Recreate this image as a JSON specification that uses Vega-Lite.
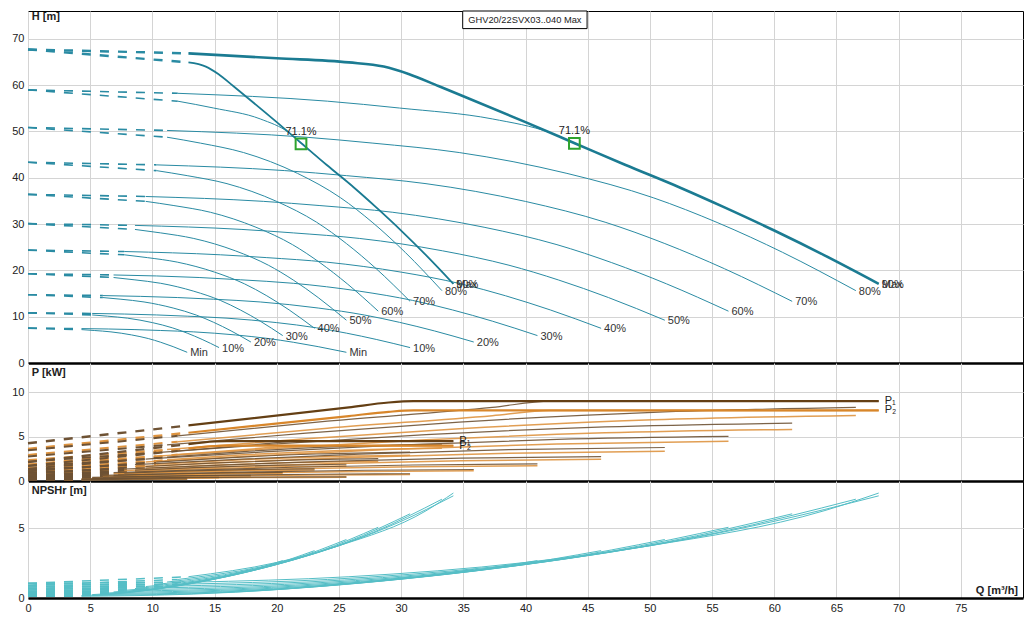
{
  "$schema": "https://vega.github.io/schema/vega-lite/v6.json",
  "background": "white",
  "padding": {"left": 0, "top": 10, "right": 8, "bottom": 0},
  "spacing": 0,
  "bounds": "flush",
  "config": {
    "font": "Liberation Sans",
    "view": {"stroke": "#000", "strokeWidth": 1},
    "concat": {"spacing": 0},
    "axis": {"labelFont": "Liberation Sans", "labelFontSize": 11, "labelColor": "#222", "gridColor": "#d4d4d4", "ticks": false, "domain": false},
    "text": {"font": "Liberation Sans", "fontSize": 11, "color": "#222"}
  },
  "datasets": {
    "h_dash": [
      {"c":"S0","q":0,"v":7.52,"q2":4.3,"v2":7.21},{"c":"D0","q":0,"v":7.52,"q2":4.3,"v2":7.43},
      {"c":"S1","q":0,"v":10.83,"q2":5.16,"v2":10.38},{"c":"D1","q":0,"v":10.83,"q2":5.16,"v2":10.7},
      {"c":"S2","q":0,"v":14.75,"q2":6.02,"v2":14.13},{"c":"D2","q":0,"v":14.75,"q2":6.02,"v2":14.56},
      {"c":"S3","q":0,"v":19.26,"q2":6.88,"v2":18.46},{"c":"D3","q":0,"v":19.26,"q2":6.88,"v2":19.01},
      {"c":"S4","q":0,"v":24.37,"q2":7.74,"v2":23.36},{"c":"D4","q":0,"v":24.37,"q2":7.74,"v2":24.07},
      {"c":"S5","q":0,"v":30.09,"q2":8.6,"v2":28.84},{"c":"D5","q":0,"v":30.09,"q2":8.6,"v2":29.71},
      {"c":"S6","q":0,"v":36.41,"q2":9.46,"v2":34.9},{"c":"D6","q":0,"v":36.41,"q2":9.46,"v2":35.95},
      {"c":"S7","q":0,"v":43.33,"q2":10.32,"v2":41.54},{"c":"D7","q":0,"v":43.33,"q2":10.32,"v2":42.78},
      {"c":"S8","q":0,"v":50.85,"q2":11.18,"v2":48.75},{"c":"D8","q":0,"v":50.85,"q2":11.18,"v2":50.21},
      {"c":"S9","q":0,"v":58.97,"q2":12.04,"v2":56.53},{"c":"D9","q":0,"v":58.97,"q2":12.04,"v2":58.23},
      {"c":"S10","q":0,"v":67.7,"q2":12.9,"v2":64.9},{"c":"D10","q":0,"v":67.7,"q2":12.9,"v2":66.85}
    ],
    "h_line": [
      {"c":"S0","q":4.3,"v":7.21},{"c":"S0","q":5.33,"v":7.02},{"c":"S0","q":6.67,"v":6.72},{"c":"S0","q":8.33,"v":6.06},{"c":"S0","q":9.67,"v":5.28},{"c":"S0","q":10.67,"v":4.48},{"c":"S0","q":11.67,"v":3.53},{"c":"S0","q":12.8,"v":2.31},
      {"c":"D0","q":4.3,"v":7.43},{"c":"D0","q":8.6,"v":7.21},{"c":"D0","q":10.67,"v":7.02},{"c":"D0","q":13.33,"v":6.72},{"c":"D0","q":16.67,"v":6.06},{"c":"D0","q":19.33,"v":5.28},{"c":"D0","q":21.33,"v":4.48},{"c":"D0","q":23.33,"v":3.53},{"c":"D0","q":25.6,"v":2.31},
      {"c":"S1","q":5.16,"v":10.38},{"c":"S1","q":6.4,"v":10.11},{"c":"S1","q":8,"v":9.68},{"c":"S1","q":10,"v":8.72},{"c":"S1","q":11.6,"v":7.6},{"c":"S1","q":12.8,"v":6.45},{"c":"S1","q":14,"v":5.09},{"c":"S1","q":15.36,"v":3.33},
      {"c":"D1","q":5.16,"v":10.7},{"c":"D1","q":10.32,"v":10.38},{"c":"D1","q":12.8,"v":10.11},{"c":"D1","q":16,"v":9.68},{"c":"D1","q":20,"v":8.72},{"c":"D1","q":23.2,"v":7.6},{"c":"D1","q":25.6,"v":6.45},{"c":"D1","q":28,"v":5.09},{"c":"D1","q":30.72,"v":3.33},
      {"c":"S2","q":6.02,"v":14.13},{"c":"S2","q":7.47,"v":13.77},{"c":"S2","q":9.33,"v":13.18},{"c":"S2","q":11.67,"v":11.87},{"c":"S2","q":13.53,"v":10.35},{"c":"S2","q":14.93,"v":8.78},{"c":"S2","q":16.33,"v":6.93},{"c":"S2","q":17.92,"v":4.53},
      {"c":"D2","q":6.02,"v":14.56},{"c":"D2","q":12.04,"v":14.13},{"c":"D2","q":14.93,"v":13.77},{"c":"D2","q":18.67,"v":13.18},{"c":"D2","q":23.33,"v":11.87},{"c":"D2","q":27.07,"v":10.35},{"c":"D2","q":29.87,"v":8.78},{"c":"D2","q":32.67,"v":6.93},{"c":"D2","q":35.84,"v":4.53},
      {"c":"S3","q":6.88,"v":18.46},{"c":"S3","q":8.53,"v":17.97},{"c":"S3","q":10.67,"v":17.21},{"c":"S3","q":13.33,"v":15.5},{"c":"S3","q":15.47,"v":13.51},{"c":"S3","q":17.07,"v":11.46},{"c":"S3","q":18.67,"v":9.04},{"c":"S3","q":20.48,"v":5.92},
      {"c":"D3","q":6.88,"v":19.01},{"c":"D3","q":13.76,"v":18.46},{"c":"D3","q":17.07,"v":17.97},{"c":"D3","q":21.33,"v":17.21},{"c":"D3","q":26.67,"v":15.5},{"c":"D3","q":30.93,"v":13.51},{"c":"D3","q":34.13,"v":11.46},{"c":"D3","q":37.33,"v":9.04},{"c":"D3","q":40.96,"v":5.92},
      {"c":"S4","q":7.74,"v":23.36},{"c":"S4","q":9.6,"v":22.75},{"c":"S4","q":12,"v":21.78},{"c":"S4","q":15,"v":19.62},{"c":"S4","q":17.4,"v":17.1},{"c":"S4","q":19.2,"v":14.51},{"c":"S4","q":21,"v":11.45},{"c":"S4","q":23.04,"v":7.49},
      {"c":"D4","q":7.74,"v":24.07},{"c":"D4","q":15.48,"v":23.36},{"c":"D4","q":19.2,"v":22.75},{"c":"D4","q":24,"v":21.78},{"c":"D4","q":30,"v":19.62},{"c":"D4","q":34.8,"v":17.1},{"c":"D4","q":38.4,"v":14.51},{"c":"D4","q":42,"v":11.45},{"c":"D4","q":46.08,"v":7.49},
      {"c":"S5","q":8.6,"v":28.84},{"c":"S5","q":10.67,"v":28.09},{"c":"S5","q":13.33,"v":26.89},{"c":"S5","q":16.67,"v":24.22},{"c":"S5","q":19.33,"v":21.11},{"c":"S5","q":21.33,"v":17.91},{"c":"S5","q":23.33,"v":14.13},{"c":"S5","q":25.6,"v":9.24},
      {"c":"D5","q":8.6,"v":29.71},{"c":"D5","q":17.2,"v":28.84},{"c":"D5","q":21.33,"v":28.09},{"c":"D5","q":26.67,"v":26.89},{"c":"D5","q":33.33,"v":24.22},{"c":"D5","q":38.67,"v":21.11},{"c":"D5","q":42.67,"v":17.91},{"c":"D5","q":46.67,"v":14.13},{"c":"D5","q":51.2,"v":9.24},
      {"c":"S6","q":9.46,"v":34.9},{"c":"S6","q":11.73,"v":33.99},{"c":"S6","q":14.67,"v":32.54},{"c":"S6","q":18.33,"v":29.31},{"c":"S6","q":21.27,"v":25.55},{"c":"S6","q":23.47,"v":21.67},{"c":"S6","q":25.67,"v":17.1},{"c":"S6","q":28.16,"v":11.19},
      {"c":"D6","q":9.46,"v":35.95},{"c":"D6","q":18.92,"v":34.9},{"c":"D6","q":23.47,"v":33.99},{"c":"D6","q":29.33,"v":32.54},{"c":"D6","q":36.67,"v":29.31},{"c":"D6","q":42.53,"v":25.55},{"c":"D6","q":46.93,"v":21.67},{"c":"D6","q":51.33,"v":17.1},{"c":"D6","q":56.32,"v":11.19},
      {"c":"S7","q":10.32,"v":41.54},{"c":"S7","q":12.8,"v":40.45},{"c":"S7","q":16,"v":38.72},{"c":"S7","q":20,"v":34.88},{"c":"S7","q":23.2,"v":30.4},{"c":"S7","q":25.6,"v":25.79},{"c":"S7","q":28,"v":20.35},{"c":"S7","q":30.72,"v":13.31},
      {"c":"D7","q":10.32,"v":42.78},{"c":"D7","q":20.64,"v":41.54},{"c":"D7","q":25.6,"v":40.45},{"c":"D7","q":32,"v":38.72},{"c":"D7","q":40,"v":34.88},{"c":"D7","q":46.4,"v":30.4},{"c":"D7","q":51.2,"v":25.79},{"c":"D7","q":56,"v":20.35},{"c":"D7","q":61.44,"v":13.31},
      {"c":"S8","q":11.18,"v":48.75},{"c":"S8","q":13.87,"v":47.47},{"c":"S8","q":17.33,"v":45.44},{"c":"S8","q":21.67,"v":40.94},{"c":"S8","q":25.13,"v":35.68},{"c":"S8","q":27.73,"v":30.27},{"c":"S8","q":30.33,"v":23.89},{"c":"S8","q":33.28,"v":15.62},
      {"c":"D8","q":11.18,"v":50.21},{"c":"D8","q":22.36,"v":48.75},{"c":"D8","q":27.73,"v":47.47},{"c":"D8","q":34.67,"v":45.44},{"c":"D8","q":43.33,"v":40.94},{"c":"D8","q":50.27,"v":35.68},{"c":"D8","q":55.47,"v":30.27},{"c":"D8","q":60.67,"v":23.89},{"c":"D8","q":66.56,"v":15.62},
      {"c":"S9","q":12.04,"v":56.53},{"c":"S9","q":14.93,"v":55.05},{"c":"S9","q":18.67,"v":52.7},{"c":"S9","q":21,"v":49.7},{"c":"S9","q":22,"v":47.4},{"c":"S9","q":24,"v":42.8},{"c":"S9","q":26.2,"v":37.9},{"c":"S9","q":28,"v":33.6},{"c":"S9","q":30,"v":28.6},{"c":"S9","q":32,"v":23.3},{"c":"S9","q":34.2,"v":17.1},
      {"c":"D9","q":12.04,"v":58.23},{"c":"D9","q":24.08,"v":56.53},{"c":"D9","q":29.87,"v":55.05},{"c":"D9","q":37.33,"v":52.7},{"c":"D9","q":42,"v":49.7},{"c":"D9","q":44,"v":47.4},{"c":"D9","q":48,"v":42.8},{"c":"D9","q":52.4,"v":37.9},{"c":"D9","q":56,"v":33.6},{"c":"D9","q":60,"v":28.6},{"c":"D9","q":64,"v":23.3},{"c":"D9","q":68.4,"v":17.1}
    ],
    "h_max": [
      {"c":"S10","q":12.9,"v":64.9},{"c":"S10","q":14.3,"v":64.0},{"c":"S10","q":15.3,"v":62.4},{"c":"S10","q":16.5,"v":59.8},{"c":"S10","q":17.5,"v":57.6},{"c":"S10","q":20,"v":52.0},{"c":"S10","q":22,"v":47.4},{"c":"S10","q":24,"v":42.8},{"c":"S10","q":26.2,"v":37.9},{"c":"S10","q":28,"v":33.6},{"c":"S10","q":30,"v":28.6},{"c":"S10","q":32,"v":23.3},{"c":"S10","q":34.2,"v":17.1},
      {"c":"D10","q":12.9,"v":66.85},{"c":"D10","q":20,"v":65.8},{"c":"D10","q":25.8,"v":64.9},{"c":"D10","q":28.6,"v":64.0},{"c":"D10","q":30.6,"v":62.4},{"c":"D10","q":33,"v":59.8},{"c":"D10","q":35,"v":57.6},{"c":"D10","q":40,"v":52.0},{"c":"D10","q":44,"v":47.4},{"c":"D10","q":48,"v":42.8},{"c":"D10","q":52.4,"v":37.9},{"c":"D10","q":56,"v":33.6},{"c":"D10","q":60,"v":28.6},{"c":"D10","q":64,"v":23.3},{"c":"D10","q":68.4,"v":17.1}
    ],
    "p1_dash": [
      {"c":"S0","q":0,"v":0.079,"q2":4.3,"v2":0.154},{"c":"D0","q":0,"v":0.158,"q2":4.3,"v2":0.232},
      {"c":"S1","q":0,"v":0.136,"q2":5.16,"v2":0.266},{"c":"D1","q":0,"v":0.273,"q2":5.16,"v2":0.401},
      {"c":"S2","q":0,"v":0.217,"q2":6.02,"v2":0.422},{"c":"D2","q":0,"v":0.433,"q2":6.02,"v2":0.636},
      {"c":"S3","q":0,"v":0.323,"q2":6.88,"v2":0.63},{"c":"D3","q":0,"v":0.646,"q2":6.88,"v2":0.95},
      {"c":"S4","q":0,"v":0.46,"q2":7.74,"v2":0.896},{"c":"D4","q":0,"v":0.92,"q2":7.74,"v2":1.352},
      {"c":"S5","q":0,"v":0.631,"q2":8.6,"v2":1.23},{"c":"D5","q":0,"v":1.262,"q2":8.6,"v2":1.855},
      {"c":"S6","q":0,"v":0.84,"q2":9.46,"v2":1.637},{"c":"D6","q":0,"v":1.68,"q2":9.46,"v2":2.469},
      {"c":"S7","q":0,"v":1.091,"q2":10.32,"v2":2.125},{"c":"D7","q":0,"v":2.181,"q2":10.32,"v2":3.205},
      {"c":"S8","q":0,"v":1.387,"q2":11.18,"v2":2.702},{"c":"D8","q":0,"v":2.773,"q2":11.18,"v2":4.075},
      {"c":"S9","q":0,"v":1.732,"q2":12.04,"v2":3.374},{"c":"D9","q":0,"v":3.464,"q2":12.04,"v2":5.09},
      {"c":"S10","q":0,"v":2.13,"q2":12.9,"v2":4.15},{"c":"D10","q":0,"v":4.26,"q2":12.9,"v2":6.26}
    ],
    "p2_dash": [
      {"c":"S0","q":0,"v":0.067,"q2":4.3,"v2":0.136},{"c":"D0","q":0,"v":0.134,"q2":4.3,"v2":0.202},
      {"c":"S1","q":0,"v":0.116,"q2":5.16,"v2":0.234},{"c":"D1","q":0,"v":0.232,"q2":5.16,"v2":0.348},
      {"c":"S2","q":0,"v":0.184,"q2":6.02,"v2":0.372},{"c":"D2","q":0,"v":0.368,"q2":6.02,"v2":0.553},
      {"c":"S3","q":0,"v":0.275,"q2":6.88,"v2":0.555},{"c":"D3","q":0,"v":0.549,"q2":6.88,"v2":0.825},
      {"c":"S4","q":0,"v":0.391,"q2":7.74,"v2":0.791},{"c":"D4","q":0,"v":0.782,"q2":7.74,"v2":1.175},
      {"c":"S5","q":0,"v":0.536,"q2":8.6,"v2":1.085},{"c":"D5","q":0,"v":1.073,"q2":8.6,"v2":1.612},
      {"c":"S6","q":0,"v":0.714,"q2":9.46,"v2":1.443},{"c":"D6","q":0,"v":1.428,"q2":9.46,"v2":2.145},
      {"c":"S7","q":0,"v":0.927,"q2":10.32,"v2":1.874},{"c":"D7","q":0,"v":1.853,"q2":10.32,"v2":2.785},
      {"c":"S8","q":0,"v":1.178,"q2":11.18,"v2":2.383},{"c":"D8","q":0,"v":2.357,"q2":11.18,"v2":3.541},
      {"c":"S9","q":0,"v":1.472,"q2":12.04,"v2":2.976},{"c":"D9","q":0,"v":2.943,"q2":12.04,"v2":4.423},
      {"c":"S10","q":0,"v":1.81,"q2":12.9,"v2":3.66},{"c":"D10","q":0,"v":3.62,"q2":12.9,"v2":5.44}
    ],
    "p1_line": [
      {"c":"S0","q":4.3,"v":0.154},{"c":"S0","q":6.67,"v":0.189},{"c":"S0","q":9.67,"v":0.22},{"c":"S0","q":12.8,"v":0.236},
      {"c":"S1","q":5.16,"v":0.266},{"c":"S1","q":8,"v":0.326},{"c":"S1","q":11.6,"v":0.381},{"c":"S1","q":15.36,"v":0.408},
      {"c":"S2","q":6.02,"v":0.422},{"c":"S2","q":9.33,"v":0.518},{"c":"S2","q":13.53,"v":0.605},{"c":"S2","q":17.92,"v":0.647},
      {"c":"S3","q":6.88,"v":0.63},{"c":"S3","q":10.67,"v":0.774},{"c":"S3","q":15.47,"v":0.903},{"c":"S3","q":20.48,"v":0.966},
      {"c":"S4","q":7.74,"v":0.896},{"c":"S4","q":12,"v":1.102},{"c":"S4","q":17.4,"v":1.285},{"c":"S4","q":23.04,"v":1.376},
      {"c":"S5","q":8.6,"v":1.23},{"c":"S5","q":13.33,"v":1.511},{"c":"S5","q":19.33,"v":1.763},{"c":"S5","q":25.6,"v":1.887},
      {"c":"S6","q":9.46,"v":1.637},{"c":"S6","q":14.67,"v":2.011},{"c":"S6","q":21.27,"v":2.347},{"c":"S6","q":28.16,"v":2.512},
      {"c":"S7","q":10.32,"v":2.125},{"c":"S7","q":16,"v":2.611},{"c":"S7","q":23.2,"v":3.046},{"c":"S7","q":30.72,"v":3.261},
      {"c":"S8","q":11.18,"v":2.702},{"c":"S8","q":17.33,"v":3.32},{"c":"S8","q":25.13,"v":3.873},{"c":"S8","q":33.28,"v":4.147},
      {"c":"S9","q":12.04,"v":3.374},{"c":"S9","q":18.67,"v":4.147},{"c":"S9","q":22,"v":4.5},{"c":"S9","q":34.2,"v":4.5},
      {"c":"D0","q":4.3,"v":0.232},{"c":"D0","q":8.6,"v":0.307},{"c":"D0","q":13.33,"v":0.378},{"c":"D0","q":19.33,"v":0.441},{"c":"D0","q":25.6,"v":0.472},
      {"c":"D1","q":5.16,"v":0.401},{"c":"D1","q":10.32,"v":0.531},{"c":"D1","q":16,"v":0.653},{"c":"D1","q":23.2,"v":0.762},{"c":"D1","q":30.72,"v":0.815},
      {"c":"D2","q":6.02,"v":0.636},{"c":"D2","q":12.04,"v":0.844},{"c":"D2","q":18.67,"v":1.037},{"c":"D2","q":27.07,"v":1.209},{"c":"D2","q":35.84,"v":1.295},
      {"c":"D3","q":6.88,"v":0.95},{"c":"D3","q":13.76,"v":1.259},{"c":"D3","q":21.33,"v":1.547},{"c":"D3","q":30.93,"v":1.805},{"c":"D3","q":40.96,"v":1.933},
      {"c":"D4","q":7.74,"v":1.352},{"c":"D4","q":15.48,"v":1.793},{"c":"D4","q":24,"v":2.203},{"c":"D4","q":34.8,"v":2.57},{"c":"D4","q":46.08,"v":2.752},
      {"c":"D5","q":8.6,"v":1.855},{"c":"D5","q":17.2,"v":2.459},{"c":"D5","q":26.67,"v":3.022},{"c":"D5","q":38.67,"v":3.526},{"c":"D5","q":51.2,"v":3.775},
      {"c":"D6","q":9.46,"v":2.469},{"c":"D6","q":18.92,"v":3.273},{"c":"D6","q":29.33,"v":4.023},{"c":"D6","q":42.53,"v":4.693},{"c":"D6","q":56.32,"v":5.024},
      {"c":"D7","q":10.32,"v":3.205},{"c":"D7","q":20.64,"v":4.25},{"c":"D7","q":32,"v":5.222},{"c":"D7","q":46.4,"v":6.093},{"c":"D7","q":61.44,"v":6.523},
      {"c":"D8","q":11.18,"v":4.075},{"c":"D8","q":22.36,"v":5.403},{"c":"D8","q":34.67,"v":6.64},{"c":"D8","q":50.27,"v":7.746},{"c":"D8","q":66.56,"v":8.293},
      {"c":"D9","q":12.04,"v":5.09},{"c":"D9","q":24.08,"v":6.748},{"c":"D9","q":37.33,"v":8.293},{"c":"D9","q":42,"v":9.0},{"c":"D9","q":68.4,"v":9.0}
    ],
    "p1_max": [
      {"c":"S10","q":12.9,"v":4.15},{"c":"S10","q":15,"v":4.45},{"c":"S10","q":16,"v":4.5},{"c":"S10","q":34.2,"v":4.5},
      {"c":"D10","q":12.9,"v":6.26},{"c":"D10","q":25.8,"v":8.3},{"c":"D10","q":29,"v":8.85},{"c":"D10","q":31,"v":9.0},{"c":"D10","q":68.4,"v":9.0}
    ],
    "p2_line": [
      {"c":"S0","q":4.3,"v":0.136},{"c":"S0","q":6.67,"v":0.168},{"c":"S0","q":9.67,"v":0.196},{"c":"S0","q":12.8,"v":0.21},
      {"c":"S1","q":5.16,"v":0.234},{"c":"S1","q":8,"v":0.29},{"c":"S1","q":11.6,"v":0.339},{"c":"S1","q":15.36,"v":0.364},
      {"c":"S2","q":6.02,"v":0.372},{"c":"S2","q":9.33,"v":0.46},{"c":"S2","q":13.53,"v":0.539},{"c":"S2","q":17.92,"v":0.577},
      {"c":"S3","q":6.88,"v":0.555},{"c":"S3","q":10.67,"v":0.687},{"c":"S3","q":15.47,"v":0.804},{"c":"S3","q":20.48,"v":0.862},
      {"c":"S4","q":7.74,"v":0.791},{"c":"S4","q":12,"v":0.979},{"c":"S4","q":17.4,"v":1.145},{"c":"S4","q":23.04,"v":1.227},
      {"c":"S5","q":8.6,"v":1.085},{"c":"S5","q":13.33,"v":1.342},{"c":"S5","q":19.33,"v":1.57},{"c":"S5","q":25.6,"v":1.683},
      {"c":"S6","q":9.46,"v":1.443},{"c":"S6","q":14.67,"v":1.787},{"c":"S6","q":21.27,"v":2.09},{"c":"S6","q":28.16,"v":2.24},
      {"c":"S7","q":10.32,"v":1.874},{"c":"S7","q":16,"v":2.319},{"c":"S7","q":23.2,"v":2.714},{"c":"S7","q":30.72,"v":2.908},
      {"c":"S8","q":11.18,"v":2.383},{"c":"S8","q":17.33,"v":2.949},{"c":"S8","q":25.13,"v":3.45},{"c":"S8","q":33.28,"v":3.698},
      {"c":"S9","q":12.04,"v":2.976},{"c":"S9","q":18.67,"v":3.683},{"c":"S9","q":22,"v":3.98},{"c":"S9","q":34.2,"v":3.98},
      {"c":"D0","q":4.3,"v":0.202},{"c":"D0","q":8.6,"v":0.271},{"c":"D0","q":13.33,"v":0.336},{"c":"D0","q":19.33,"v":0.393},{"c":"D0","q":25.6,"v":0.421},
      {"c":"D1","q":5.16,"v":0.348},{"c":"D1","q":10.32,"v":0.469},{"c":"D1","q":16,"v":0.58},{"c":"D1","q":23.2,"v":0.678},{"c":"D1","q":30.72,"v":0.727},
      {"c":"D2","q":6.02,"v":0.553},{"c":"D2","q":12.04,"v":0.744},{"c":"D2","q":18.67,"v":0.921},{"c":"D2","q":27.07,"v":1.077},{"c":"D2","q":35.84,"v":1.155},
      {"c":"D3","q":6.88,"v":0.825},{"c":"D3","q":13.76,"v":1.11},{"c":"D3","q":21.33,"v":1.374},{"c":"D3","q":30.93,"v":1.608},{"c":"D3","q":40.96,"v":1.723},
      {"c":"D4","q":7.74,"v":1.175},{"c":"D4","q":15.48,"v":1.581},{"c":"D4","q":24,"v":1.957},{"c":"D4","q":34.8,"v":2.29},{"c":"D4","q":46.08,"v":2.454},
      {"c":"D5","q":8.6,"v":1.612},{"c":"D5","q":17.2,"v":2.169},{"c":"D5","q":26.67,"v":2.685},{"c":"D5","q":38.67,"v":3.141},{"c":"D5","q":51.2,"v":3.366},
      {"c":"D6","q":9.46,"v":2.145},{"c":"D6","q":18.92,"v":2.887},{"c":"D6","q":29.33,"v":3.573},{"c":"D6","q":42.53,"v":4.18},{"c":"D6","q":56.32,"v":4.48},
      {"c":"D7","q":10.32,"v":2.785},{"c":"D7","q":20.64,"v":3.748},{"c":"D7","q":32,"v":4.639},{"c":"D7","q":46.4,"v":5.427},{"c":"D7","q":61.44,"v":5.816},
      {"c":"D8","q":11.18,"v":3.541},{"c":"D8","q":22.36,"v":4.765},{"c":"D8","q":34.67,"v":5.898},{"c":"D8","q":50.27,"v":6.9},{"c":"D8","q":66.56,"v":7.395},
      {"c":"D9","q":12.04,"v":4.423},{"c":"D9","q":24.08,"v":5.952},{"c":"D9","q":37.33,"v":7.366},{"c":"D9","q":42,"v":7.96},{"c":"D9","q":68.4,"v":7.96}
    ],
    "p2_max": [
      {"c":"S10","q":12.9,"v":3.66},{"c":"S10","q":15,"v":3.93},{"c":"S10","q":16,"v":3.98},{"c":"S10","q":34.2,"v":3.98},
      {"c":"D10","q":12.9,"v":5.44},{"c":"D10","q":25.8,"v":7.32},{"c":"D10","q":29,"v":7.8},{"c":"D10","q":31,"v":7.96},{"c":"D10","q":68.4,"v":7.96}
    ],
    "n_dash": [
      {"c":"S0","q":0,"v":0.117,"q2":4.3,"v2":0.169},{"c":"D0","q":0,"v":0.117,"q2":4.3,"v2":0.125},
      {"c":"S1","q":0,"v":0.168,"q2":5.16,"v2":0.243},{"c":"D1","q":0,"v":0.168,"q2":5.16,"v2":0.18},
      {"c":"S2","q":0,"v":0.229,"q2":6.02,"v2":0.331},{"c":"D2","q":0,"v":0.229,"q2":6.02,"v2":0.245},
      {"c":"S3","q":0,"v":0.299,"q2":6.88,"v2":0.432},{"c":"D3","q":0,"v":0.299,"q2":6.88,"v2":0.32},
      {"c":"S4","q":0,"v":0.378,"q2":7.74,"v2":0.547},{"c":"D4","q":0,"v":0.378,"q2":7.74,"v2":0.405},
      {"c":"S5","q":0,"v":0.467,"q2":8.6,"v2":0.676},{"c":"D5","q":0,"v":0.467,"q2":8.6,"v2":0.5},
      {"c":"S6","q":0,"v":0.565,"q2":9.46,"v2":0.817},{"c":"D6","q":0,"v":0.565,"q2":9.46,"v2":0.605},
      {"c":"S7","q":0,"v":0.672,"q2":10.32,"v2":0.973},{"c":"D7","q":0,"v":0.672,"q2":10.32,"v2":0.72},
      {"c":"S8","q":0,"v":0.789,"q2":11.18,"v2":1.142},{"c":"D8","q":0,"v":0.789,"q2":11.18,"v2":0.845},
      {"c":"S9","q":0,"v":0.915,"q2":12.04,"v2":1.324},{"c":"D9","q":0,"v":0.915,"q2":12.04,"v2":0.98},
      {"c":"S10","q":0,"v":1.05,"q2":12.9,"v2":1.52},{"c":"D10","q":0,"v":1.05,"q2":12.9,"v2":1.125}
    ],
    "n_line": [
      {"c":"S0","q":4.3,"v":0.169},{"c":"S0","q":6.67,"v":0.282},{"c":"S0","q":8.33,"v":0.416},{"c":"S0","q":10.67,"v":0.692},{"c":"S0","q":12.8,"v":1.044},
      {"c":"D0","q":4.3,"v":0.125},{"c":"D0","q":8.6,"v":0.169},{"c":"D0","q":13.33,"v":0.282},{"c":"D0","q":16.67,"v":0.416},{"c":"D0","q":21.33,"v":0.692},{"c":"D0","q":25.6,"v":1.044},
      {"c":"S1","q":5.16,"v":0.243},{"c":"S1","q":8,"v":0.406},{"c":"S1","q":10,"v":0.598},{"c":"S1","q":12.8,"v":0.997},{"c":"S1","q":15.36,"v":1.504},
      {"c":"D1","q":5.16,"v":0.18},{"c":"D1","q":10.32,"v":0.243},{"c":"D1","q":16,"v":0.406},{"c":"D1","q":20,"v":0.598},{"c":"D1","q":25.6,"v":0.997},{"c":"D1","q":30.72,"v":1.504},
      {"c":"S2","q":6.02,"v":0.331},{"c":"S2","q":9.33,"v":0.553},{"c":"S2","q":11.67,"v":0.815},{"c":"S2","q":14.93,"v":1.357},{"c":"S2","q":17.92,"v":2.047},
      {"c":"D2","q":6.02,"v":0.245},{"c":"D2","q":12.04,"v":0.331},{"c":"D2","q":18.67,"v":0.553},{"c":"D2","q":23.33,"v":0.815},{"c":"D2","q":29.87,"v":1.357},{"c":"D2","q":35.84,"v":2.047},
      {"c":"S3","q":6.88,"v":0.432},{"c":"S3","q":10.67,"v":0.722},{"c":"S3","q":13.33,"v":1.064},{"c":"S3","q":17.07,"v":1.772},{"c":"S3","q":20.48,"v":2.673},
      {"c":"D3","q":6.88,"v":0.32},{"c":"D3","q":13.76,"v":0.432},{"c":"D3","q":21.33,"v":0.722},{"c":"D3","q":26.67,"v":1.064},{"c":"D3","q":34.13,"v":1.772},{"c":"D3","q":40.96,"v":2.673},
      {"c":"S4","q":7.74,"v":0.547},{"c":"S4","q":12,"v":0.914},{"c":"S4","q":15,"v":1.346},{"c":"S4","q":19.2,"v":2.243},{"c":"S4","q":23.04,"v":3.384},
      {"c":"D4","q":7.74,"v":0.405},{"c":"D4","q":15.48,"v":0.547},{"c":"D4","q":24,"v":0.914},{"c":"D4","q":30,"v":1.346},{"c":"D4","q":38.4,"v":2.243},{"c":"D4","q":46.08,"v":3.384},
      {"c":"S5","q":8.6,"v":0.676},{"c":"S5","q":13.33,"v":1.129},{"c":"S5","q":16.67,"v":1.662},{"c":"S5","q":21.33,"v":2.769},{"c":"S5","q":25.6,"v":4.178},
      {"c":"D5","q":8.6,"v":0.5},{"c":"D5","q":17.2,"v":0.676},{"c":"D5","q":26.67,"v":1.129},{"c":"D5","q":33.33,"v":1.662},{"c":"D5","q":42.67,"v":2.769},{"c":"D5","q":51.2,"v":4.178},
      {"c":"S6","q":9.46,"v":0.817},{"c":"S6","q":14.67,"v":1.366},{"c":"S6","q":18.33,"v":2.011},{"c":"S6","q":23.47,"v":3.35},{"c":"S6","q":28.16,"v":5.055},
      {"c":"D6","q":9.46,"v":0.605},{"c":"D6","q":18.92,"v":0.817},{"c":"D6","q":29.33,"v":1.366},{"c":"D6","q":36.67,"v":2.011},{"c":"D6","q":46.93,"v":3.35},{"c":"D6","q":56.32,"v":5.055},
      {"c":"S7","q":10.32,"v":0.973},{"c":"S7","q":16,"v":1.626},{"c":"S7","q":20,"v":2.394},{"c":"S7","q":25.6,"v":3.987},{"c":"S7","q":30.72,"v":6.016},
      {"c":"D7","q":10.32,"v":0.72},{"c":"D7","q":20.64,"v":0.973},{"c":"D7","q":32,"v":1.626},{"c":"D7","q":40,"v":2.394},{"c":"D7","q":51.2,"v":3.987},{"c":"D7","q":61.44,"v":6.016},
      {"c":"S8","q":11.18,"v":1.142},{"c":"S8","q":17.33,"v":1.908},{"c":"S8","q":21.67,"v":2.809},{"c":"S8","q":27.73,"v":4.679},{"c":"S8","q":33.28,"v":7.06},
      {"c":"D8","q":11.18,"v":0.845},{"c":"D8","q":22.36,"v":1.142},{"c":"D8","q":34.67,"v":1.908},{"c":"D8","q":43.33,"v":2.809},{"c":"D8","q":55.47,"v":4.679},{"c":"D8","q":66.56,"v":7.06},
      {"c":"S9","q":12.04,"v":1.324},{"c":"S9","q":18.67,"v":2.213},{"c":"S9","q":23.33,"v":3.258},{"c":"S9","q":29.87,"v":5.427},{"c":"S9","q":34.2,"v":7.3},
      {"c":"D9","q":12.04,"v":0.98},{"c":"D9","q":24.08,"v":1.324},{"c":"D9","q":37.33,"v":2.213},{"c":"D9","q":46.67,"v":3.258},{"c":"D9","q":59.73,"v":5.427},{"c":"D9","q":68.4,"v":7.3},
      {"c":"S10","q":12.9,"v":1.52},{"c":"S10","q":20,"v":2.54},{"c":"S10","q":25,"v":3.74},{"c":"S10","q":32,"v":6.23},{"c":"S10","q":34.2,"v":7.5},
      {"c":"D10","q":12.9,"v":1.125},{"c":"D10","q":25.8,"v":1.52},{"c":"D10","q":40,"v":2.54},{"c":"D10","q":50,"v":3.74},{"c":"D10","q":64,"v":6.23},{"c":"D10","q":68.4,"v":7.5}
    ]
  },
  "vconcat": [
    {
      "width": 995,
      "height": 352,
      "layer": [
        {
          "data": {"name": "h_dash"},
          "mark": {"type": "rule", "strokeDash": [9, 9], "color": "#2a8ba3"},
          "encoding": {
            "x": {"field": "q", "type": "quantitative", "scale": {"domain": [0, 80], "nice": false},
              "axis": {"values": [0,5,10,15,20,25,30,35,40,45,50,55,60,65,70,75], "labels": false, "grid": true, "domain": true, "domainColor": "#000", "domainWidth": 2.5, "minExtent": 0, "maxExtent": 0, "title": null}},
            "y": {"field": "v", "type": "quantitative", "scale": {"domain": [0, 76], "nice": false},
              "axis": {"values": [0,10,20,30,40,50,60,70], "grid": true, "labelPadding": 4, "minExtent": 27, "maxExtent": 27, "title": null}},
            "x2": {"field": "q2"},
            "y2": {"field": "v2"},
            "strokeWidth": {"condition": {"test": "datum.c === 'S10' || datum.c === 'D10'", "value": 2.4}, "value": 1.6}
          }
        },
        {
          "data": {"name": "h_line"},
          "mark": {"type": "line", "interpolate": "monotone", "color": "#2a8ba3", "strokeWidth": 1},
          "encoding": {
            "x": {"field": "q", "type": "quantitative"},
            "y": {"field": "v", "type": "quantitative"},
            "detail": {"field": "c"}
          }
        },
        {
          "data": {"name": "h_max"},
          "mark": {"type": "line", "interpolate": "monotone", "color": "#1b7b92"},
          "encoding": {
            "x": {"field": "q", "type": "quantitative"},
            "y": {"field": "v", "type": "quantitative"},
            "detail": {"field": "c"},
            "strokeWidth": {"field": "c", "type": "nominal", "scale": {"domain": ["S10", "D10"], "range": [1.8, 2.6]}, "legend": null}
          }
        },
        {
          "data": {"values": [
            {"t":"Min","q":12.8,"v":2.31},{"t":"10%","q":15.36,"v":3.33},{"t":"20%","q":17.92,"v":4.53},{"t":"30%","q":20.48,"v":5.92},{"t":"40%","q":23.04,"v":7.49},{"t":"50%","q":25.6,"v":9.24},{"t":"60%","q":28.16,"v":11.19},{"t":"70%","q":30.72,"v":13.31},{"t":"80%","q":33.28,"v":15.62},{"t":"90%","q":34.2,"v":17.1},{"t":"Max","q":34.2,"v":17.1},
            {"t":"Min","q":25.6,"v":2.31},{"t":"10%","q":30.72,"v":3.33},{"t":"20%","q":35.84,"v":4.53},{"t":"30%","q":40.96,"v":5.92},{"t":"40%","q":46.08,"v":7.49},{"t":"50%","q":51.2,"v":9.24},{"t":"60%","q":56.32,"v":11.19},{"t":"70%","q":61.44,"v":13.31},{"t":"80%","q":66.56,"v":15.62},{"t":"90%","q":68.4,"v":17.1},{"t":"Max","q":68.4,"v":17.1}
          ]},
          "mark": {"type": "text", "align": "left", "baseline": "middle", "dx": 3, "dy": 1, "fontSize": 11, "color": "#333"},
          "encoding": {
            "x": {"field": "q", "type": "quantitative"},
            "y": {"field": "v", "type": "quantitative"},
            "text": {"field": "t"}
          }
        },
        {
          "data": {"values": [{"q": 21.95, "v": 47.3, "t": "71.1%"}, {"q": 43.93, "v": 47.4, "t": "71.1%"}]},
          "layer": [
            {
              "mark": {"type": "point", "shape": "square", "size": 115, "filled": false, "color": "#2ea32e", "strokeWidth": 2, "opacity": 1},
              "encoding": {"x": {"field": "q", "type": "quantitative"}, "y": {"field": "v", "type": "quantitative"}}
            },
            {
              "mark": {"type": "text", "align": "center", "baseline": "middle", "dy": -12, "fontSize": 11, "color": "#222"},
              "encoding": {"x": {"field": "q", "type": "quantitative"}, "y": {"field": "v", "type": "quantitative"}, "text": {"field": "t"}}
            }
          ]
        },
        {
          "data": {"values": [{"q": 34.95, "q2": 44.95, "v": 72.2, "v2": 76}]},
          "mark": {"type": "rect", "fill": "white", "stroke": "#000", "strokeWidth": 1},
          "encoding": {
            "x": {"field": "q", "type": "quantitative"},
            "x2": {"field": "q2"},
            "y": {"field": "v", "type": "quantitative"},
            "y2": {"field": "v2"}
          }
        },
        {
          "data": {"values": [{"q": 39.95, "v": 74.1, "t": "GHV20/22SVX03..040 Max"}]},
          "mark": {"type": "text", "align": "center", "baseline": "middle", "fontSize": 9.3, "color": "#222"},
          "encoding": {"x": {"field": "q", "type": "quantitative"}, "y": {"field": "v", "type": "quantitative"}, "text": {"field": "t"}}
        },
        {
          "data": {"values": [{"q": 0.3, "v": 74.6, "t": "H [m]"}]},
          "mark": {"type": "text", "align": "left", "baseline": "middle", "fontSize": 11, "fontWeight": "bold", "color": "#222"},
          "encoding": {"x": {"field": "q", "type": "quantitative"}, "y": {"field": "v", "type": "quantitative"}, "text": {"field": "t"}}
        }
      ]
    },
    {
      "width": 995,
      "height": 118,
      "layer": [
        {
          "data": {"name": "p2_dash"},
          "mark": {"type": "rule", "strokeDash": [9, 9], "color": "#de9440"},
          "encoding": {
            "x": {"field": "q", "type": "quantitative", "scale": {"domain": [0, 80], "nice": false},
              "axis": {"values": [0,5,10,15,20,25,30,35,40,45,50,55,60,65,70,75], "labels": false, "grid": true, "domain": true, "domainColor": "#000", "domainWidth": 2.5, "minExtent": 0, "maxExtent": 0, "title": null}},
            "y": {"field": "v", "type": "quantitative", "scale": {"domain": [0, 13.3], "nice": false},
              "axis": {"values": [0,5,10], "grid": true, "labelPadding": 4, "minExtent": 27, "maxExtent": 27, "title": null}},
            "x2": {"field": "q2"},
            "y2": {"field": "v2"},
            "strokeWidth": {"condition": {"test": "datum.c === 'S10' || datum.c === 'D10'", "value": 2.4}, "value": 2}
          }
        },
        {
          "data": {"name": "p1_dash"},
          "mark": {"type": "rule", "strokeDash": [9, 9], "color": "#6e5234"},
          "encoding": {
            "x": {"field": "q", "type": "quantitative"},
            "y": {"field": "v", "type": "quantitative"},
            "x2": {"field": "q2"},
            "y2": {"field": "v2"},
            "strokeWidth": {"condition": {"test": "datum.c === 'S10' || datum.c === 'D10'", "value": 2.4}, "value": 2}
          }
        },
        {
          "data": {"name": "p2_line"},
          "mark": {"type": "line", "interpolate": "monotone", "color": "#de9440", "strokeWidth": 1.5, "opacity": 0.9},
          "encoding": {"x": {"field": "q", "type": "quantitative"}, "y": {"field": "v", "type": "quantitative"}, "detail": {"field": "c"}}
        },
        {
          "data": {"name": "p1_line"},
          "mark": {"type": "line", "interpolate": "monotone", "color": "#6e5234", "strokeWidth": 1.2, "opacity": 0.9},
          "encoding": {"x": {"field": "q", "type": "quantitative"}, "y": {"field": "v", "type": "quantitative"}, "detail": {"field": "c"}}
        },
        {
          "data": {"name": "p2_max"},
          "mark": {"type": "line", "interpolate": "monotone", "color": "#d8862a", "strokeWidth": 2.2},
          "encoding": {"x": {"field": "q", "type": "quantitative"}, "y": {"field": "v", "type": "quantitative"}, "detail": {"field": "c"}}
        },
        {
          "data": {"name": "p1_max"},
          "mark": {"type": "line", "interpolate": "monotone", "color": "#643f14", "strokeWidth": 2.2},
          "encoding": {"x": {"field": "q", "type": "quantitative"}, "y": {"field": "v", "type": "quantitative"}, "detail": {"field": "c"}}
        },
        {
          "data": {"values": [{"t": "P₁", "q": 68.4, "v": 9.0}, {"t": "P₂", "q": 68.4, "v": 7.96}, {"t": "P₁", "q": 34.2, "v": 4.5}, {"t": "P₂", "q": 34.2, "v": 3.98}]},
          "mark": {"type": "text", "align": "left", "baseline": "middle", "dx": 6, "fontSize": 11, "color": "#222"},
          "encoding": {"x": {"field": "q", "type": "quantitative"}, "y": {"field": "v", "type": "quantitative"}, "text": {"field": "t"}}
        },
        {
          "data": {"values": [{"q": 0.3, "v": 12.15, "t": "P [kW]"}]},
          "mark": {"type": "text", "align": "left", "baseline": "middle", "fontSize": 11, "fontWeight": "bold", "color": "#222"},
          "encoding": {"x": {"field": "q", "type": "quantitative"}, "y": {"field": "v", "type": "quantitative"}, "text": {"field": "t"}}
        }
      ]
    },
    {
      "width": 995,
      "height": 117,
      "layer": [
        {
          "data": {"name": "n_dash"},
          "mark": {"type": "rule", "strokeDash": [9, 9], "color": "#55bec6", "strokeWidth": 1.5},
          "encoding": {
            "x": {"field": "q", "type": "quantitative", "scale": {"domain": [0, 80], "nice": false},
              "axis": {"values": [0,5,10,15,20,25,30,35,40,45,50,55,60,65,70,75], "labels": true, "labelFlush": false, "labelPadding": 4, "grid": true, "domain": true, "domainColor": "#000", "domainWidth": 2.5, "title": null}},
            "y": {"field": "v", "type": "quantitative", "scale": {"domain": [0, 8.36], "nice": false},
              "axis": {"values": [0,5], "grid": true, "labelPadding": 4, "minExtent": 27, "maxExtent": 27, "title": null}},
            "x2": {"field": "q2"},
            "y2": {"field": "v2"}
          }
        },
        {
          "data": {"name": "n_line"},
          "mark": {"type": "line", "interpolate": "monotone", "color": "#55bec6", "strokeWidth": 1},
          "encoding": {"x": {"field": "q", "type": "quantitative"}, "y": {"field": "v", "type": "quantitative"}, "detail": {"field": "c"}}
        },
        {
          "data": {"values": [{"q": 0.3, "v": 7.65, "t": "NPSHr [m]"}]},
          "mark": {"type": "text", "align": "left", "baseline": "middle", "fontSize": 11, "fontWeight": "bold", "color": "#222"},
          "encoding": {"x": {"field": "q", "type": "quantitative"}, "y": {"field": "v", "type": "quantitative"}, "text": {"field": "t"}}
        },
        {
          "data": {"values": [{"q": 79.6, "v": 0.5, "t": "Q [m³/h]"}]},
          "mark": {"type": "text", "align": "right", "baseline": "middle", "fontSize": 11, "fontWeight": "bold", "color": "#222"},
          "encoding": {"x": {"field": "q", "type": "quantitative"}, "y": {"field": "v", "type": "quantitative"}, "text": {"field": "t"}}
        }
      ]
    }
  ]
}
